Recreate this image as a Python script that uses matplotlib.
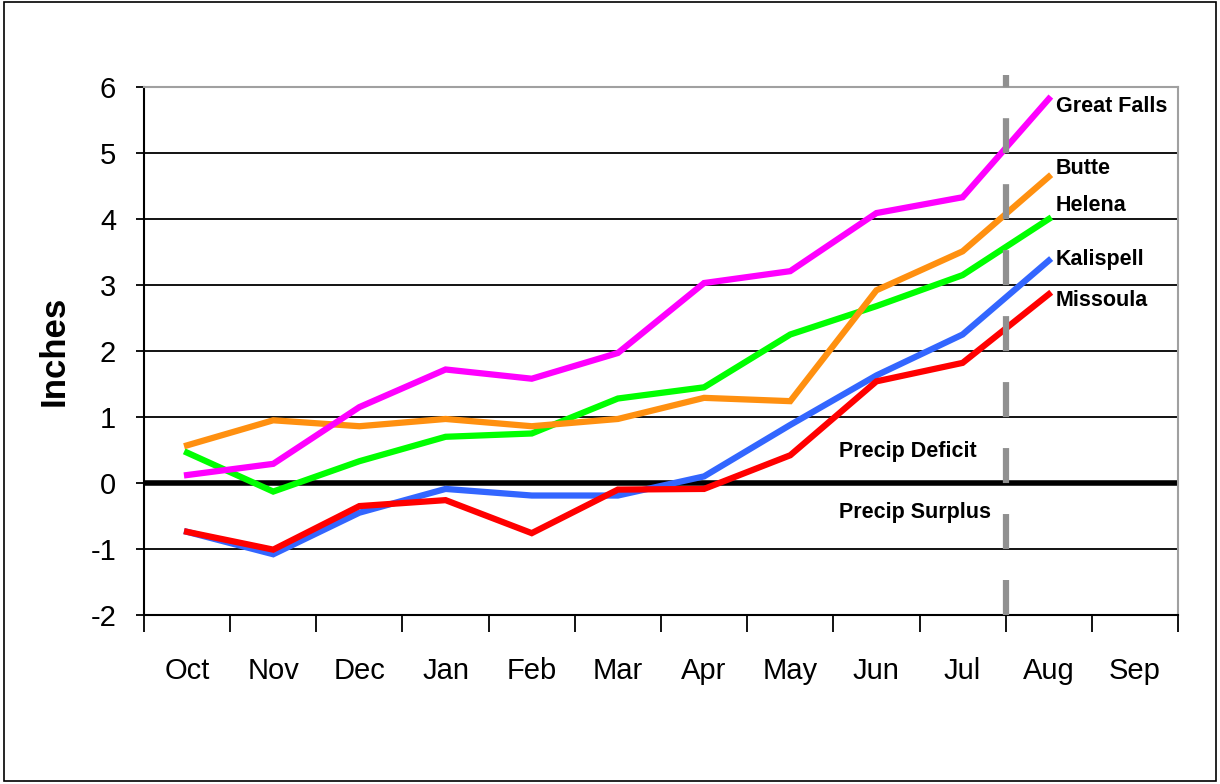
import matplotlib.pyplot as plt
from matplotlib.patches import Rectangle

months = ['Oct', 'Nov', 'Dec', 'Jan', 'Feb', 'Mar', 'Apr', 'May', 'Jun', 'Jul', 'Aug', 'Sep']

great_falls = [0.12, 0.29, 1.15, 1.72, 1.58, 1.97, 3.03, 3.21, 4.09, 4.33, 5.82]
butte = [0.57, 0.95, 0.86, 0.97, 0.86, 0.97, 1.29, 1.24, 2.92, 3.51, 4.64]
helena = [0.46, -0.13, 0.33, 0.70, 0.75, 1.28, 1.45, 2.25, 2.68, 3.15, 4.0]
kalispell = [-0.74, -1.08, -0.45, -0.09, -0.19, -0.19, 0.1, 0.88, 1.63, 2.25, 3.37]
missoula = [-0.74, -1.01, -0.35, -0.26, -0.76, -0.1, -0.09, 0.42, 1.54, 1.82, 2.86]

names = ['Great Falls', 'Butte', 'Helena', 'Kalispell', 'Missoula']
label_y = [5.7, 4.77, 4.2, 3.38, 2.77]

plt.rcParams['font.family'] = ['Liberation Sans', 'DejaVu Sans']
plt.rcParams['lines.scale_dashes'] = False

fig = plt.figure(figsize=(12.2, 7.84), dpi=100)
ax = fig.add_axes([0.118, 0.2156, 0.8476, 0.6734])

x = list(range(len(great_falls)))
# draw order so red sits on blue, orange on green
series = [(helena, '#00FF00'), (butte, '#FF9010'), (great_falls, '#FF00FF'),
          (kalispell, '#3366FF'), (missoula, '#FF0000')]
for vals, col in series:
    ax.plot(x, vals, color=col, lw=4.5, zorder=3, solid_joinstyle='miter')

lab_font = ['Liberation Sans Narrow', 'DejaVu Sans Condensed', 'Liberation Sans']
for name, ly in zip(names, label_y):
    ax.text(10.08, ly, name, fontsize=15.5, fontweight='bold',
            family=lab_font, va='center', ha='left')

ax.text(7.56, 0.47, 'Precip Deficit', fontsize=15.5, fontweight='bold',
        family=lab_font, va='center')
ax.text(7.56, -0.45, 'Precip Surplus', fontsize=15.5, fontweight='bold',
        family=lab_font, va='center')

for yv in range(-2, 7):
    if yv != 0:
        ax.axhline(yv, color='black', lw=1.3, zorder=1)
ax.axhline(0, color='black', lw=4, zorder=2)

# dashed marker between Jul and Aug, drawn from the bottom up
ax.plot([9.5, 9.5], [-2, 6.18], color='#909090', lw=4.5, dashes=(25.2, 22.3),
        zorder=5, clip_on=False, solid_capstyle='butt', dash_capstyle='butt')

ax.set_xlim(-0.5, 11.5)
ax.set_ylim(-2, 6)
ax.set_yticks(range(-2, 7))
ax.set_yticklabels([str(v) for v in range(-2, 7)], fontsize=21)
ax.set_xticks(range(12))
ax.set_xticklabels(months, fontsize=21)
ax.set_xticks([i + 0.5 for i in range(-1, 12)], minor=True)
ax.tick_params(axis='x', which='major', length=0, pad=30)
ax.tick_params(axis='x', which='minor', length=12, width=1.3, color='black')
ax.tick_params(axis='y', length=6, width=1.3, pad=14)

for s in ['top', 'right']:
    ax.spines[s].set_color('#a0a0a0')
    ax.spines[s].set_linewidth(1.5)
for s in ['left', 'bottom']:
    ax.spines[s].set_color('black')
    ax.spines[s].set_linewidth(1.5)

ax.set_ylabel('Inches', fontsize=25, fontweight='bold', labelpad=14)

fig.patches.append(Rectangle((0.003, 0.004), 0.994, 0.994, transform=fig.transFigure,
                             fill=False, edgecolor='black', lw=1.2))

fig.savefig('out.png', dpi=100)
